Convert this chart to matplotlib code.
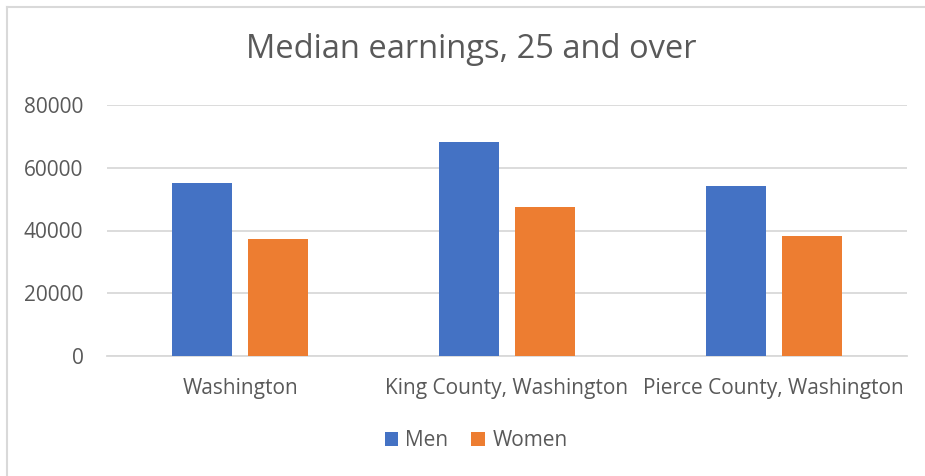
import numpy as np
import matplotlib.pyplot as plt
from matplotlib.lines import Line2D

# data
regions = ['Washington', 'King County, Washington', 'Pierce County, Washington']
men = [55100, 68400, 54300]
women = [37200, 47400, 38200]
yticks = [0, 20000, 40000, 60000, 80000]

plt.rcParams['font.family'] = ['Open Sans', 'DejaVu Sans']
textColor = '#595959'
gridColor = '#d9d9d9'
colorMen = '#4472c4'
colorWomen = '#ed7d31'

fig = plt.figure(figsize=(9.25, 4.76), dpi=100)
ax = fig.add_axes([107/925, 1-355.7/476, 800/925, 250.4/476])

x = np.arange(len(regions))
barWidth = 0.225
offset = 0.1425
ax.bar(x - offset, men, barWidth, color=colorMen, label='Men', zorder=3)
ax.bar(x + offset, women, barWidth, color=colorWomen, label='Women', zorder=3)

ax.set_xlim(-0.5, 2.5)
ax.set_ylim(0, 80000)
ax.set_yticks(yticks)
ax.set_yticklabels([str(v) for v in yticks])
ax.set_xticks(x)
ax.set_xticklabels(regions)
ax.yaxis.grid(True, color=gridColor, linewidth=1.3, zorder=0)
ax.set_axisbelow(True)
for side in ['top', 'right', 'left']:
    ax.spines[side].set_visible(False)
ax.spines['bottom'].set_color(gridColor)
ax.spines['bottom'].set_linewidth(1.3)
ax.tick_params(axis='both', length=0, labelsize=15, labelcolor=textColor)
ax.tick_params(axis='y', pad=17)
ax.tick_params(axis='x', pad=16)

fig.text(471/925, 1-50/476, 'Median earnings, 25 and over', ha='center', va='center',
         fontsize=23.5, color=textColor)

leg = fig.legend(loc='center', bbox_to_anchor=(476/925, 1-441/476), ncol=2, frameon=False,
                 fontsize=15, handlelength=0.65, handleheight=0.65, handletextpad=0.35,
                 columnspacing=1.1)
for t in leg.get_texts():
    t.set_color(textColor)

# chart border (only left and top visible in the crop)
fig.add_artist(Line2D([7/925, 7/925], [0, 1-7/476], color=gridColor, lw=1.5))
fig.add_artist(Line2D([7/925, 1], [1-7/476, 1-7/476], color=gridColor, lw=1.5))

fig.savefig('out.png', dpi=100)
